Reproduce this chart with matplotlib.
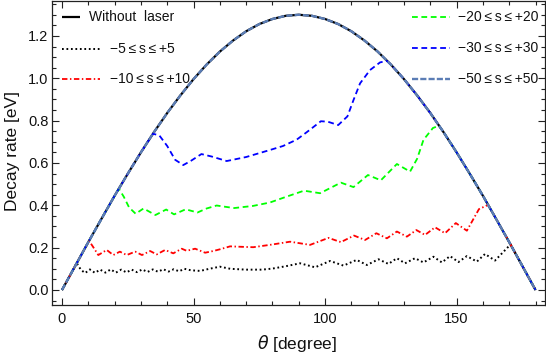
import matplotlib
matplotlib.use("Agg")
import matplotlib.pyplot as plt
from matplotlib.ticker import MultipleLocator

plt.rcParams['font.family'] = ['Liberation Sans', 'DejaVu Sans']
plt.rcParams['mathtext.fontset'] = 'dejavusans'

# ---------------- data ----------------
main_theta = [0, 5, 10, 15, 20, 25, 30, 35, 40, 45, 50, 55, 60, 65, 70, 75, 80, 85, 90,
              95, 100, 105, 110, 115, 120, 125, 130, 135, 140, 145, 150, 155, 160, 165, 170, 175, 180]
main_vals = [0.0, 0.113, 0.226, 0.336, 0.445, 0.549, 0.650, 0.746, 0.836, 0.919, 0.996, 1.065,
             1.126, 1.178, 1.222, 1.256, 1.280, 1.295, 1.300, 1.295, 1.280, 1.256, 1.222, 1.178,
             1.126, 1.065, 0.996, 0.919, 0.836, 0.746, 0.650, 0.549, 0.445, 0.336, 0.226, 0.113, 0.0]

s5_theta = [0, 5.6, 7.2, 8.8, 10.6, 12.5, 14.5, 16.5, 18.5, 20.5, 22.5, 24.5, 26.5, 28.5, 30.5,
            32.5, 34.5, 36.5, 38.5, 40.5, 42.5, 44.5, 46.5, 49, 52.5, 56, 60, 64, 70, 76, 80, 85,
            90.5, 96.2, 101.9, 107, 112, 115.9, 120.3, 124.1, 127.3, 130.4, 134.2, 137.4, 141.2,
            144.4, 147.5, 150.7, 153.9, 157.7, 160.8, 164.6, 170.5, 175, 180]
s5_vals = [0.0, 0.127, 0.095, 0.080, 0.097, 0.081, 0.096, 0.082, 0.097, 0.082, 0.096, 0.083, 0.096,
           0.084, 0.097, 0.085, 0.097, 0.086, 0.098, 0.087, 0.098, 0.088, 0.100, 0.093, 0.090, 0.100,
           0.110, 0.100, 0.096, 0.096, 0.101, 0.112, 0.126, 0.107, 0.137, 0.115, 0.142, 0.118, 0.145,
           0.123, 0.150, 0.126, 0.150, 0.130, 0.157, 0.130, 0.160, 0.132, 0.160, 0.134, 0.170, 0.139,
           0.215, 0.113, 0.0]

s10_theta = [0, 5, 10.3, 12, 13.8, 17, 19.5, 22, 24.6, 27.8, 30.4, 33.5, 36, 39.2, 42.3, 45.5, 47.4,
             50.6, 54.4, 57.5, 60, 63.9, 68, 72.7, 79, 86.7, 94.3, 101.3, 106, 111, 115.2, 119.5,
             123.5, 127.3, 131.1, 134.7, 138, 141.8, 145.6, 149.7, 153.9, 158.5, 162, 165, 170, 175, 180]
s10_vals = [0.0, 0.113, 0.232, 0.200, 0.165, 0.189, 0.165, 0.181, 0.165, 0.181, 0.165, 0.184, 0.168,
            0.189, 0.173, 0.195, 0.185, 0.195, 0.176, 0.184, 0.192, 0.206, 0.204, 0.202, 0.213, 0.228,
            0.213, 0.246, 0.226, 0.257, 0.236, 0.268, 0.244, 0.276, 0.252, 0.283, 0.260, 0.296, 0.268,
            0.316, 0.280, 0.382, 0.402, 0.336, 0.226, 0.113, 0.0]

s20_theta = [0, 5, 10, 15, 21.6, 23.5, 25.5, 28, 31, 35.5, 39.6, 42.6, 47, 51.5, 55, 58.8, 62, 65.5,
             72.6, 79, 85.4, 92, 98.1, 106, 110.8, 116.3, 121.2, 127.3, 132.3, 135, 137.4, 141,
             143.3, 145, 150, 155, 160, 165, 170, 175, 180]
s20_vals = [0.0, 0.113, 0.226, 0.336, 0.479, 0.440, 0.390, 0.360, 0.385, 0.354, 0.380, 0.357, 0.381,
            0.366, 0.385, 0.399, 0.393, 0.387, 0.397, 0.413, 0.441, 0.469, 0.457, 0.507, 0.486, 0.543,
            0.518, 0.595, 0.559, 0.620, 0.709, 0.765, 0.776, 0.746, 0.650, 0.549, 0.445, 0.336, 0.226,
            0.113, 0.0]

s30_theta = [0, 5, 10, 15, 20, 25, 30, 34.6, 37, 40, 43, 46.1, 49, 53, 57, 62.6, 70, 79, 84, 89.2,
             93, 98.4, 101, 105, 108.5, 110.8, 113.3, 117.1, 120.9, 123.5, 125, 130, 135, 140, 145,
             150, 155, 160, 165, 170, 175, 180]
s30_vals = [0.0, 0.113, 0.226, 0.336, 0.445, 0.549, 0.650, 0.738, 0.730, 0.680, 0.615, 0.590, 0.610,
            0.642, 0.630, 0.609, 0.628, 0.661, 0.680, 0.710, 0.745, 0.797, 0.795, 0.779, 0.820, 0.897,
            0.976, 1.039, 1.075, 1.082, 1.065, 0.996, 0.919, 0.836, 0.746, 0.650, 0.549, 0.445, 0.336,
            0.226, 0.113, 0.0]

s50_theta = main_theta
s50_vals = main_vals

TS = "\u2009"
labels = ["Without  laser",
          f"\u22125{TS}\u2264{TS}s{TS}\u2264{TS}+5",
          f"\u221210{TS}\u2264{TS}s{TS}\u2264{TS}+10",
          f"\u221220{TS}\u2264{TS}s{TS}\u2264{TS}+20",
          f"\u221230{TS}\u2264{TS}s{TS}\u2264{TS}+30",
          f"\u221250{TS}\u2264{TS}s{TS}\u2264{TS}+50"]

x_ticks = [0, 50, 100, 150]
y_ticks = [0.0, 0.2, 0.4, 0.6, 0.8, 1.0, 1.2]

# ---------------- styles ----------------
C_RED = '#ff0000'
C_GREEN = '#00ff00'
C_BLUE = '#0000ff'
C_STEEL = '#5b7db5'

styles = [
    dict(color='black', lw=1.6, ls='-'),
    dict(color='black', lw=1.4, dashes=(0.9, 1.4)),
    dict(color=C_RED, lw=1.3, dashes=(3.0, 1.4, 0.8, 1.4)),
    dict(color=C_GREEN, lw=1.3, dashes=(3.2, 2.0)),
    dict(color=C_BLUE, lw=1.3, dashes=(3.2, 2.0)),
    dict(color=C_STEEL, lw=1.7, dashes=(2.6, 0.9)),
]

fig = plt.figure(figsize=(5.46, 3.54), dpi=100)
W, H = 546, 354
L, R, T, B = 52, 545, 1, 305
ax = fig.add_axes([L / W, 1 - B / H, (R - L) / W, (B - T) / H])

series = [(main_theta, main_vals), (s5_theta, s5_vals), (s10_theta, s10_vals),
          (s20_theta, s20_vals), (s30_theta, s30_vals), (s50_theta, s50_vals)]
for (th, v), st in zip(series, styles):
    ax.plot(th, v, solid_capstyle='butt', dash_capstyle='butt', **st)

ax.set_xlim(-3.8, 183.6)
ax.set_ylim(-0.071, 1.365)

ax.set_xticks(x_ticks)
ax.set_yticks(y_ticks)
ax.set_yticklabels([f"{t:.1f}" for t in y_ticks])
ax.xaxis.set_minor_locator(MultipleLocator(10))
ax.yaxis.set_minor_locator(MultipleLocator(0.05))
ax.tick_params(which='both', direction='in', top=True, right=True, colors='#222222',
               labelcolor='#111111', width=0.8)
ax.tick_params(which='major', length=5, labelsize=10.5)
ax.tick_params(which='minor', length=2.8)
ax.tick_params(axis='y', pad=2.5)
ax.tick_params(axis='x', pad=5)
for sp in ax.spines.values():
    sp.set_color('#222222')
    sp.set_linewidth(0.9)

# legend, drawn by hand in axes coordinates
def ax_x(px):
    return (px - L) / (R - L)

def ax_y(py):
    return (B - py) / (B - T)

leg = [
    (62, 80, 89, 17),
    (62, 100, 110, 49),
    (62, 100, 110, 79),
    (412, 450, 458, 17),
    (412, 450, 458, 48),
    (412, 450, 458, 79),
]
for (x0, x1, xt, yy), st, lab in zip(leg, styles, labels):
    ax.plot([ax_x(x0), ax_x(x1)], [ax_y(yy), ax_y(yy)], transform=ax.transAxes,
            clip_on=False, solid_capstyle='butt', dash_capstyle='butt', **st)
    ax.text(ax_x(xt), ax_y(yy), lab, transform=ax.transAxes, fontsize=10,
            va='center', ha='left', color='#111111')

fig.text(13 / W, 1 - 151 / H, "Decay rate [eV]", rotation=90, fontsize=12.5,
         ha='center', va='center', color='#111111')
fig.text(297 / W, 1 - 343 / H, r"$\theta$ [degree]", fontsize=12.5,
         ha='center', va='center', color='#111111')

fig.savefig("out.png", dpi=100)
